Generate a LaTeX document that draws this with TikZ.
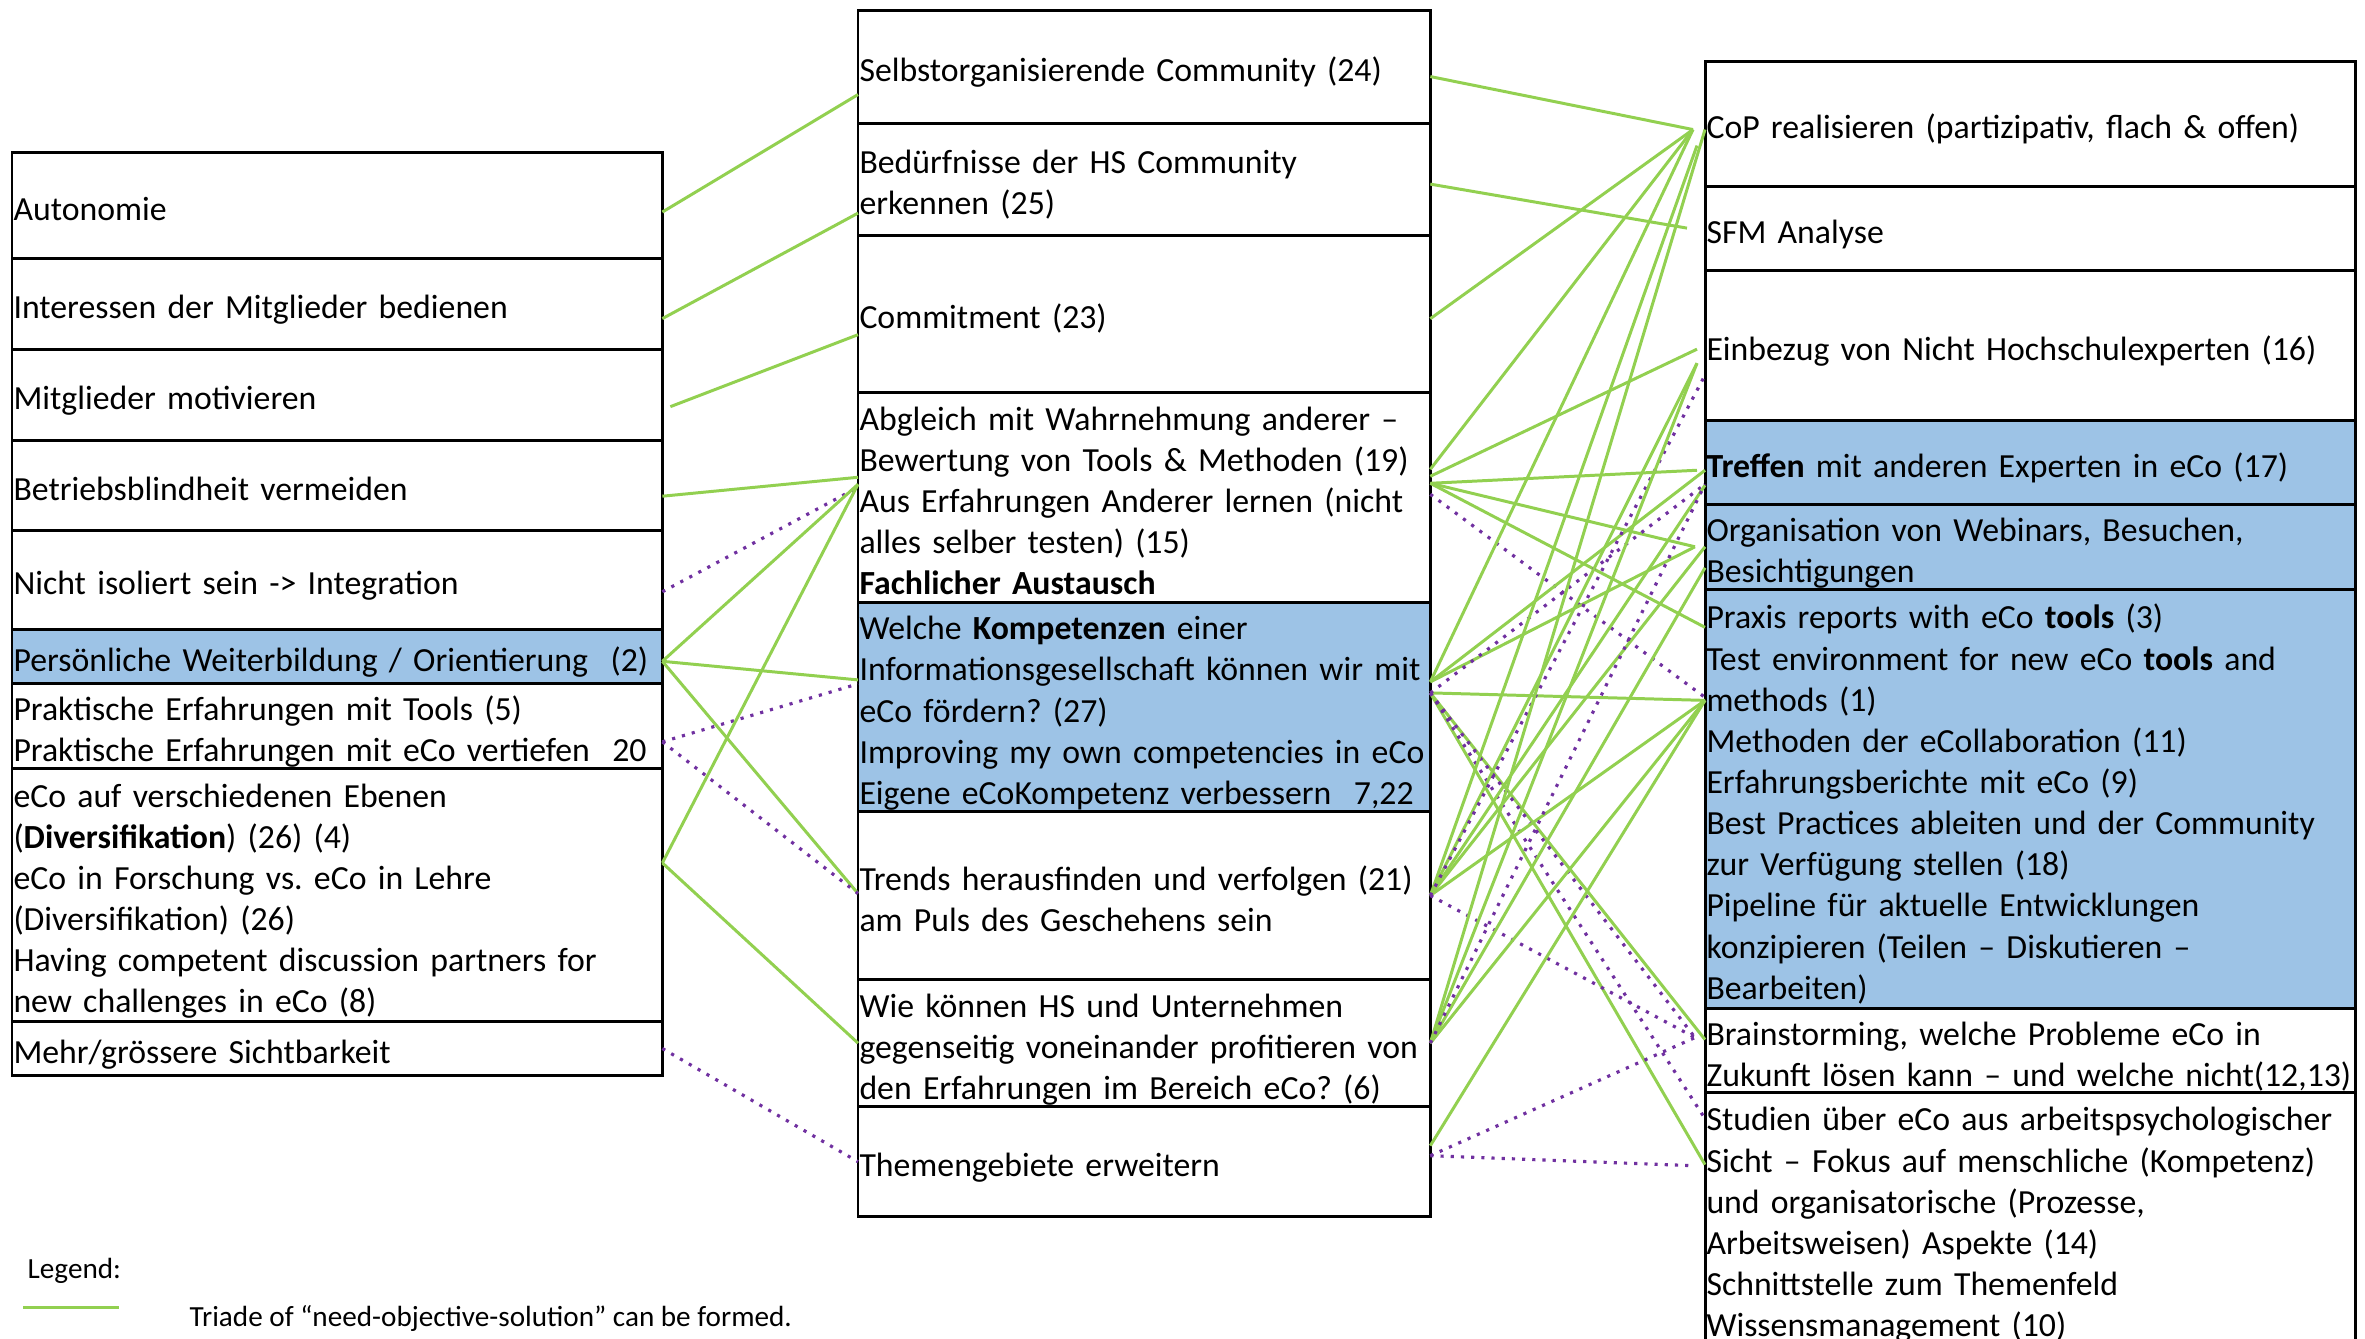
\documentclass[tikz,border=0pt]{standalone}
\usepackage{fontspec}
\setmainfont{Carlito}
\usetikzlibrary{positioning}
\definecolor{triGreen}{HTML}{92D050}
\definecolor{noPurple}{HTML}{7030A0}
\definecolor{hiBlue}{HTML}{9DC3E6}
\newcommand{\boxfont}{\fontsize{9.6pt}{11.7pt}\selectfont\frenchspacing}
\newcommand{\legfont}{\fontsize{8.3pt}{10pt}\selectfont\frenchspacing}

\begin{document}
\begin{tikzpicture}[x=0.01cm,y=-0.01cm,
  cell/.style={draw,line width=0.85pt,rectangle,outer sep=0pt,inner xsep=0.015cm,inner ysep=0pt,align=left,font=\boxfont,
    execute at begin node={\rule{0pt}{10.4pt}},execute at end node={\rule[-1.8pt]{0pt}{1.8pt}}},
  lcell/.style={cell,minimum width=6.5cm,text width=6.47cm},
  mcell/.style={cell,minimum width=5.72cm,text width=5.69cm},
  rcell/.style={cell,minimum width=6.5cm,text width=6.47cm},
  hi/.style={fill=hiBlue},
  tri/.style={draw=triGreen,line width=0.85pt},
  nodot/.style={draw=noPurple,line width=0.9pt,dash pattern=on 0.9pt off 2pt}]
\useasboundingbox (0,0) rectangle (2365,1338);

% needs
\node[lcell,minimum height=1.06cm,anchor=north west] (aut) at (12,152) {Autonomie};
\node[lcell,minimum height=0.91cm,below=0pt of aut] (int) {Interessen der Mitglieder bedienen};
\node[lcell,minimum height=0.91cm,below=0pt of int] (mot) {Mitglieder motivieren};
\node[lcell,minimum height=0.90cm,below=0pt of mot] (bli) {Betriebsblindheit vermeiden};
\node[lcell,minimum height=0.99cm,below=0pt of bli] (iso) {Nicht isoliert sein -> Integration};
\node[lcell,hi,minimum height=0.54cm,below=0pt of iso] (wei) {Persönliche Weiterbildung / Orientierung \ (2)};
\node[lcell,minimum height=0.85cm,below=0pt of wei] (pra) {Praktische Erfahrungen mit Tools (5)\\Praktische Erfahrungen mit eCo vertiefen \ 20};
\node[lcell,minimum height=2.53cm,below=0pt of pra] (div) {eCo auf verschiedenen Ebenen\\(\textbf{Diversifikation}) (26) (4)\\eCo in Forschung vs. eCo in Lehre\\(Diversifikation) (26)\\Having competent discussion partners for\\new challenges in eCo (8)};
\node[lcell,minimum height=0.54cm,below=0pt of div] (sic) {Mehr/grössere Sichtbarkeit};

% objectives
\node[mcell,minimum height=1.13cm,anchor=north west] (sel) at (858,10) {Selbstorganisierende Community (24)};
\node[mcell,minimum height=1.12cm,below=0pt of sel] (bed) {Bedürfnisse der HS Community\\erkennen (25)};
\node[mcell,minimum height=1.57cm,below=0pt of bed] (com) {Commitment (23)};
\node[mcell,minimum height=2.10cm,below=0pt of com] (aus) {Abgleich mit Wahrnehmung anderer –\\Bewertung von Tools \& Methoden (19)\\Aus Erfahrungen Anderer lernen (nicht\\alles selber testen) (15)\\\textbf{Fachlicher Austausch}};
\node[mcell,hi,minimum height=2.09cm,below=0pt of aus] (kom) {Welche \textbf{Kompetenzen} einer\\Informationsgesellschaft können wir mit\\eCo fördern? (27)\\Improving my own competencies in eCo\\Eigene eCoKompetenz verbessern \ 7,22};
\node[mcell,minimum height=1.68cm,below=0pt of kom] (trd) {Trends herausfinden und verfolgen (21)\\am Puls des Geschehens sein};
\node[mcell,minimum height=1.27cm,below=0pt of trd] (unt) {Wie können HS und Unternehmen\\gegenseitig voneinander profitieren von\\den Erfahrungen im Bereich eCo? (6)};
\node[mcell,minimum height=1.10cm,below=0pt of unt] (the) {Themengebiete erweitern};

% solutions
\node[rcell,minimum height=1.25cm,anchor=north west] (cop) at (1705,61) {CoP realisieren (partizipativ, flach \& offen)};
\node[rcell,minimum height=0.84cm,below=0pt of cop] (sfm) {SFM Analyse};
\node[rcell,minimum height=1.50cm,below=0pt of sfm] (ext) {Einbezug von Nicht Hochschulexperten (16)};
\node[rcell,hi,minimum height=0.84cm,below=0pt of ext] (tref) {\textbf{Treffen} mit anderen Experten in eCo (17)};
\node[rcell,hi,minimum height=0.85cm,below=0pt of tref] (web) {Organisation von Webinars, Besuchen,\\Besichtigungen};
\node[rcell,hi,minimum height=4.19cm,below=0pt of web] (rep) {Praxis reports with eCo \textbf{tools} (3)\\Test environment for new eCo \textbf{tools} and\\methods (1)\\Methoden der eCollaboration (11)\\Erfahrungsberichte mit eCo (9)\\Best Practices ableiten und der Community\\zur Verfügung stellen (18)\\Pipeline für aktuelle Entwicklungen\\konzipieren (Teilen – Diskutieren –\\Bearbeiten)};
\node[rcell,minimum height=0.84cm,below=0pt of rep] (bra) {Brainstorming, welche Probleme eCo in\\Zukunft lösen kann – und welche nicht(12,13)};
\node[rcell,minimum height=2.52cm,below=0pt of bra] (stu) {Studien über eCo aus arbeitspsychologischer\\Sicht – Fokus auf menschliche (Kompetenz)\\und organisatorische (Prozesse,\\Arbeitsweisen) Aspekte (14)\\Schnittstelle zum Themenfeld\\Wissensmanagement (10)};

% needs -> objectives
\path ([yshift=-0.07cm]aut.east) edge[tri] ([yshift=-0.28cm]sel.west);
\path ([yshift=-0.15cm]int.east) edge[tri] ([yshift=-0.34cm]bed.west);
\path ([xshift=0.08cm,yshift=-0.12cm]mot.east) edge[tri] ([yshift=-0.21cm]com.west);
\path ([yshift=-0.11cm]bli.east) edge[tri] ([yshift=0.20cm]aus.west);
\path ([yshift=-0.12cm]iso.east) edge[nodot] ([yshift=0.10cm]aus.west);
\path ([yshift=-0.05cm]wei.east) edge[tri] ([yshift=0.13cm]aus.west)
  edge[tri] ([yshift=0.27cm]kom.west)
  edge[tri] ([yshift=0.02cm]trd.west);
\path ([yshift=-0.16cm]pra.east) edge[nodot] ([yshift=0.23cm]kom.west)
  edge[nodot] ([yshift=0.02cm]trd.west);
\path ([yshift=0.32cm]div.east) edge[tri] ([yshift=0.13cm]aus.west)
  edge[tri] (unt.west);
\path (sic.east) edge[nodot] (the.west);

% objectives -> solutions
\path ([yshift=-0.10cm]sel.east) edge[tri] ([xshift=-0.12cm,yshift=-0.06cm]cop.west);
\path ([yshift=-0.05cm]bed.east) edge[tri] ([xshift=-0.18cm]sfm.west);
\path ([yshift=-0.05cm]com.east) edge[tri] ([xshift=-0.12cm,yshift=-0.06cm]cop.west);
\path ([yshift=0.28cm]aus.east) edge[tri] ([xshift=-0.12cm,yshift=-0.06cm]cop.west);
\path ([yshift=0.21cm]aus.east) edge[tri] ([xshift=-0.08cm,yshift=-0.04cm]ext.west);
\path ([yshift=0.14cm]aus.east) edge[tri] ([xshift=-0.08cm,yshift=-0.08cm]tref.west)
  edge[tri] ([xshift=-0.10cm]web.west)
  edge[tri] ([yshift=-0.38cm]rep.north west);
\path ([yshift=0.03cm]aus.east) edge[nodot] ([yshift=-1.08cm]rep.north west);
\path ([yshift=0.25cm]kom.east) edge[tri] ([xshift=-0.12cm,yshift=-0.06cm]cop.west)
  edge[tri] ([yshift=-0.08cm]tref.west)
  edge[tri] ([xshift=-0.10cm]web.west);
\path ([yshift=0.14cm]kom.east) edge[tri] ([yshift=-1.11cm]rep.north west)
  edge[tri] ([yshift=0.11cm]bra.west)
  edge[tri] ([yshift=-0.72cm]stu.north west)
  edge[nodot] ([yshift=-0.22cm]tref.west)
  edge[nodot] ([xshift=-0.10cm,yshift=0.13cm]bra.west)
  edge[nodot] ([yshift=-0.26cm]stu.north west);
\path (trd.east) edge[tri] ([xshift=-0.08cm,yshift=-0.22cm]cop.west)
  edge[tri] ([xshift=-0.08cm,yshift=-0.18cm]ext.west)
  edge[tri] ([yshift=-0.23cm]tref.west)
  edge[tri] (web.west)
  edge[tri] ([yshift=-1.11cm]rep.north west)
  edge[nodot] ([yshift=-0.30cm]ext.west)
  edge[nodot] ([xshift=-0.10cm,yshift=0.13cm]bra.west);
\path (unt.east) edge[tri] ([yshift=-0.06cm]cop.west)
  edge[tri] ([xshift=-0.08cm,yshift=-0.18cm]ext.west)
  edge[tri] ([yshift=-0.21cm]web.west)
  edge[tri] ([yshift=-1.11cm]rep.north west)
  edge[nodot] ([yshift=-0.22cm]tref.west);
\path ([yshift=0.16cm]the.east) edge[tri] ([yshift=-1.11cm]rep.north west);
\path ([yshift=0.06cm]the.east) edge[nodot] ([xshift=-0.10cm,yshift=0.13cm]bra.west)
  edge[nodot] ([xshift=-0.13cm,yshift=-0.73cm]stu.north west);

% legend
\node[anchor=west,inner sep=0pt,font=\legfont] (leg) at (27,1271) {Legend:};
\coordinate (legA) at (23,1307);
\coordinate (legB) at (119,1307);
\path (legA) edge[tri] (legB);
\node[anchor=west,inner sep=0pt,font=\legfont] (legtri) at (189,1318) {Triade of “need-objective-solution” can be formed.};

\end{tikzpicture}
\end{document}
